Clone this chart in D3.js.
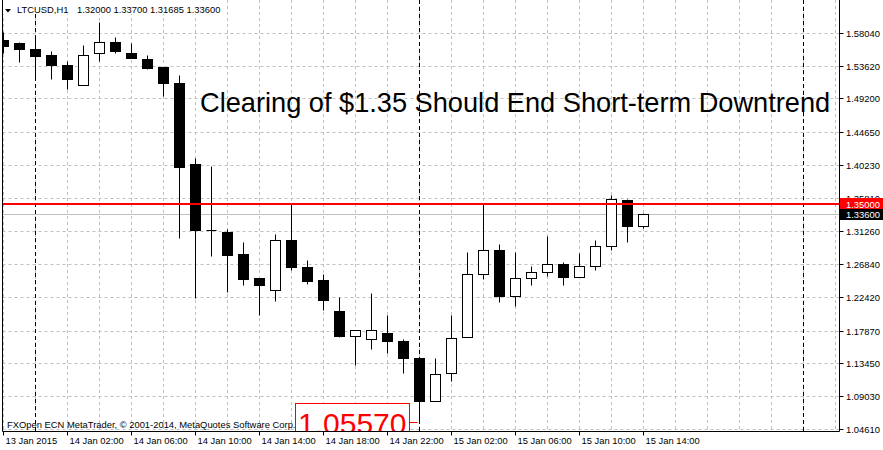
<!DOCTYPE html>
<html><head><meta charset="utf-8">
<script src="https://cdn.jsdelivr.net/npm/d3@7"></script>
<style>
body{margin:0;background:#fff}
svg{display:block}
text{font-family:"Liberation Sans",Arial,sans-serif}
</style>
</head><body>
<svg id="c" width="883" height="450"></svg>
<script>
// ---- data ----
const times = [
"2015-01-13 22:00","2015-01-13 23:00",
"2015-01-14 00:00","2015-01-14 01:00","2015-01-14 02:00","2015-01-14 03:00","2015-01-14 04:00","2015-01-14 05:00",
"2015-01-14 06:00","2015-01-14 07:00","2015-01-14 08:00","2015-01-14 09:00","2015-01-14 10:00","2015-01-14 11:00",
"2015-01-14 12:00","2015-01-14 13:00","2015-01-14 14:00","2015-01-14 15:00","2015-01-14 16:00","2015-01-14 17:00",
"2015-01-14 18:00","2015-01-14 19:00","2015-01-14 20:00","2015-01-14 21:00","2015-01-14 22:00","2015-01-14 23:00",
"2015-01-15 00:00","2015-01-15 01:00","2015-01-15 02:00","2015-01-15 03:00","2015-01-15 04:00","2015-01-15 05:00",
"2015-01-15 06:00","2015-01-15 07:00","2015-01-15 08:00","2015-01-15 09:00","2015-01-15 10:00","2015-01-15 11:00",
"2015-01-15 12:00","2015-01-15 13:00","2015-01-15 14:00"];
const opens  = [1.5713,1.5669,1.5579,1.5498,1.5376,1.5097,1.5534,1.5686,1.5538,1.5444,1.5336,1.5133,1.4040,1.3140,
                1.3114,1.2813,1.2502,1.2336,1.3015,1.2647,1.2462,1.2057,1.1716,1.1675,1.1747,1.1652,
                1.1423,1.0839,1.1217,1.1702,1.2552,1.2876,1.2250,1.2498,1.2579,1.2687,1.2512,1.2660,1.2930,1.3551,1.32000];
const highs  = [1.5821,1.5675,1.5740,1.5565,1.5417,1.5646,1.5956,1.5754,1.5660,1.5498,1.5336,1.5228,1.4112,1.4004,
                1.3159,1.2979,1.2502,1.3083,1.3500,1.2732,1.2543,1.2246,1.1797,1.2296,1.2003,1.1679,
                1.1430,1.1410,1.2003,1.2853,1.3500,1.2961,1.2840,1.2660,1.3069,1.2718,1.2836,1.3002,1.3622,1.3556,1.33700];
const lows   = [1.5534,1.5407,1.5205,1.5174,1.5039,1.5097,1.5417,1.5529,1.5461,1.5309,1.4958,1.3033,1.2226,1.2790,
                1.2304,1.2398,1.1990,1.2183,1.2601,1.2412,1.2061,1.1697,1.1319,1.1535,1.1481,1.1211,
                1.0557,1.0839,1.1103,1.1702,1.2485,1.2169,1.2115,1.2398,1.2520,1.2398,1.2512,1.2606,1.2871,1.2979,1.31685];
const closes = [1.5623,1.5588,1.5488,1.5372,1.5178,1.5498,1.5682,1.5556,1.5461,1.5326,1.5124,1.3991,1.3137,1.3140,
                1.2803,1.2485,1.2398,1.3015,1.2641,1.2452,1.2196,1.1710,1.1797,1.1797,1.1643,1.1414,
                1.0833,1.1203,1.1689,1.2552,1.2876,1.2250,1.2498,1.2579,1.2687,1.2506,1.2660,1.2930,1.3564,1.3195,1.33600];

const yTickLabels = ["1.58040","1.53620","1.49200","1.44650","1.40230","1.35810","1.31260",
                     "1.26840","1.22420","1.17870","1.13450","1.09030","1.04610"];
const xTickLabels = ["13 Jan 2015","14 Jan 02:00","14 Jan 06:00","14 Jan 10:00","14 Jan 14:00","14 Jan 18:00",
                     "14 Jan 22:00","15 Jan 02:00","15 Jan 06:00","15 Jan 10:00","15 Jan 14:00"];
const xTickTimes  = ["2015-01-13 22:00","2015-01-14 02:00","2015-01-14 06:00","2015-01-14 10:00","2015-01-14 14:00",
                     "2015-01-14 18:00","2015-01-14 22:00","2015-01-15 02:00","2015-01-15 06:00","2015-01-15 10:00",
                     "2015-01-15 14:00"];
const daySeparators = ["2015-01-14 00:00","2015-01-15 00:00","2015-01-16 00:00"];

const symbolText = "LTCUSD,H1";
const ohlcText   = "1.32000 1.33700 1.31685 1.33600";
const titleText  = "Clearing of $1.35 Should End Short-term Downtrend";
const footerText = "FXOpen ECN MetaTrader, \u00A9 2001-2014, MetaQuotes Software Corp.";
const levelPrice = 1.35,   levelLabel = "1.35000";
const bidPrice   = 1.336,  bidLabel   = "1.33600";
const lowPrice   = 1.0557, lowLabel   = "1.05570", lowTime = "2015-01-15 00:00";

// ---- layout ----
const svg = d3.select("#c");
const parse = d3.timeParse("%Y-%m-%d %H:%M");
const data = times.map((t,i)=>({t:parse(t),o:opens[i],h:highs[i],l:lows[i],c:closes[i]}));
const plotL = 2.5, plotR = 839.5, plotB = 431.5;

const x = d3.scaleTime()
  .domain([parse("2015-01-13 22:00"), parse("2015-01-16 03:00")])
  .range([3.5, 851.5]);
const y = d3.scaleLinear().domain([1.0461, 1.5804]).range([429.3, 33.3]);
const cr = v => Math.round(v - 0.5) + 0.5;

svg.append("rect").attr("width",883).attr("height",450).attr("fill","#fff");

svg.append("clipPath").attr("id","plot")
  .append("rect").attr("x",3).attr("y",0).attr("width",plotR-3).attr("height",plotB-0.5);

const plot = svg.append("g").attr("clip-path","url(#plot)");

// horizontal grid
const yVals = yTickLabels.map(Number);
plot.selectAll(".hg").data(yVals).join("line")
  .attr("x1",plotL).attr("x2",plotR)
  .attr("y1",d=>cr(y(d))).attr("y2",d=>cr(y(d)))
  .attr("stroke","#c0c0c0").attr("stroke-dasharray","3,3");

// vertical grid (every 2 hours)
const vg = d3.timeHour.every(2).range(x.domain()[0], x.domain()[1]).filter(d=>x(d) < plotR-1);
plot.selectAll(".vg").data(vg).join("line")
  .attr("x1",d=>cr(x(d))).attr("x2",d=>cr(x(d)))
  .attr("y1",0).attr("y2",plotB)
  .attr("stroke","#c0c0c0").attr("stroke-dasharray","3,3");

// day separators
plot.selectAll(".sep").data(daySeparators.map(parse)).join("line")
  .attr("x1",d=>cr(x(d))).attr("x2",d=>cr(x(d)))
  .attr("y1",0).attr("y2",plotB)
  .attr("stroke","#000").attr("stroke-dasharray","4,3");

// bid line
plot.append("line").attr("x1",plotL).attr("x2",plotR)
  .attr("y1",cr(y(bidPrice))).attr("y2",cr(y(bidPrice)))
  .attr("stroke","#c0c0c0");

// candles
const cg = plot.append("g");
data.forEach(d=>{
  const cx = cr(x(d.t));
  cg.append("line").attr("x1",cx).attr("x2",cx)
    .attr("y1",cr(y(d.h))).attr("y2",cr(y(d.l))).attr("stroke","#000");
  const top = cr(y(Math.max(d.o,d.c))), bot = cr(y(Math.min(d.o,d.c)));
  if (bot - top < 1) {
    cg.append("line").attr("x1",cx-5).attr("x2",cx+5).attr("y1",top).attr("y2",top).attr("stroke","#000");
  } else {
    cg.append("rect").attr("x",cx-5).attr("y",top).attr("width",10).attr("height",bot-top)
      .attr("fill", d.c >= d.o ? "#fff" : "#000").attr("stroke","#000");
  }
});

// level line
plot.append("line").attr("x1",plotL).attr("x2",plotR)
  .attr("y1",Math.round(y(levelPrice))).attr("y2",Math.round(y(levelPrice)))
  .attr("stroke","#ff0000").attr("stroke-width",2);

// title
plot.append("text").attr("x",200).attr("y",112).attr("font-size","27.2px").attr("fill","#000").text(titleText);

// low price label
const lx = cr(x(parse(lowTime))), ly = cr(y(lowPrice));
plot.append("line").attr("x1",lx-10).attr("x2",lx-2).attr("y1",ly).attr("y2",ly).attr("stroke","#ff0000");
plot.append("rect").attr("x",lx-124).attr("y",ly-19).attr("width",114).attr("height",40)
  .attr("fill","#fff").attr("stroke","#ff0000");
plot.append("text").attr("x",lx-121.5).attr("y",ly+11).attr("font-size","30px").attr("fill","#ff0000").text(lowLabel);

// footer
plot.append("text").attr("x",7).attr("y",428).attr("font-size","9.4px").attr("fill","#000").text(footerText);

// header
plot.append("rect").attr("x",3).attr("y",0).attr("width",217).attr("height",14).attr("fill","#fff");
plot.append("path").attr("d","M5,9 L11,9 L8,12.5 Z").attr("fill","#000");
plot.append("text").attr("x",17).attr("y",13).attr("font-size","9.4px").attr("fill","#000").text(symbolText);
plot.append("text").attr("x",77).attr("y",13).attr("font-size","9.4px").attr("fill","#000").text(ohlcText);

// frame
svg.append("line").attr("x1",plotL).attr("x2",plotL).attr("y1",0).attr("y2",plotB).attr("stroke","#000");
svg.append("line").attr("x1",plotR).attr("x2",plotR).attr("y1",0).attr("y2",plotB).attr("stroke","#000");
svg.append("line").attr("x1",plotL).attr("x2",plotR).attr("y1",plotB).attr("y2",plotB).attr("stroke","#000");

// y axis
const ya = svg.append("g");
yVals.forEach((v,i)=>{
  const yy = cr(y(v));
  ya.append("line").attr("x1",plotR).attr("x2",plotR+4).attr("y1",yy).attr("y2",yy).attr("stroke","#000");
  ya.append("text").attr("x",846).attr("y",yy+3.5).attr("font-size","9.4px").attr("fill","#000").text(yTickLabels[i]);
});
// level labels
const ry = Math.round(y(levelPrice));
ya.append("rect").attr("x",plotR+0.5).attr("y",ry-6).attr("width",44).attr("height",11).attr("fill","#ff0000");
ya.append("text").attr("x",846).attr("y",ry+3.5).attr("font-size","9.4px").attr("fill","#fff").text(levelLabel);
const by = Math.round(y(bidPrice));
ya.append("rect").attr("x",plotR+0.5).attr("y",by-5).attr("width",44).attr("height",11).attr("fill","#000");
ya.append("text").attr("x",846).attr("y",by+4).attr("font-size","9.4px").attr("fill","#fff").text(bidLabel);

// x axis
const xa = svg.append("g");
xTickTimes.forEach((t,i)=>{
  const xx = cr(x(parse(t)));
  xa.append("line").attr("x1",xx).attr("x2",xx).attr("y1",plotB).attr("y2",plotB+4).attr("stroke","#000");
  xa.append("text").attr("x",xx+2).attr("y",444).attr("font-size","9.4px").attr("fill","#000").text(xTickLabels[i]);
});
</script>
</body></html>
